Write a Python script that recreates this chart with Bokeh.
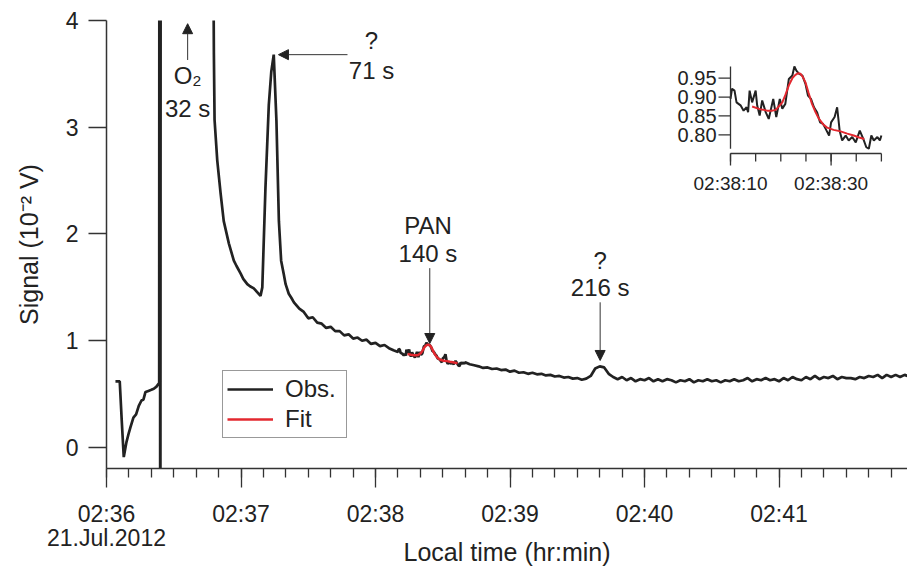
import math
from bokeh.plotting import figure
from bokeh.models import (Range1d, FixedTicker, Arrow, NormalHead,
                          Legend, LegendItem, LinearAxis)
from bokeh.core.properties import value
from bokeh.embed import file_html
from bokeh.resources import INLINE

FONT = "Liberation Sans"
INK = "#222222"
AXC = "#333333"
RED = "#e3282f"

# ---------------- data ----------------
# time: seconds after 02:36:00 local time (21 Jul 2012); signal in 1e-2 V
pre_t = [4.0, 5.9, 6.8, 7.7, 8.9, 10.0, 10.7, 12.0, 13.2, 14.4, 15.6, 16.5,
         17.4, 18.7, 20.0, 21.1, 22.3, 23.3]
pre_v = [0.62, 0.62, 0.25, -0.09, 0.05, 0.14, 0.19, 0.28, 0.31, 0.39, 0.44,
         0.45, 0.52, 0.53, 0.54, 0.55, 0.57, 0.60]

# O2 injection spike (off scale)
spike_t = [23.5, 23.7, 24.0, 24.3, 46.5]
spike_v = [0.60, 12.0, -3.0, 12.0, 9.0]

peak_t = [47.9, 48.2, 49.4, 50.9, 52.3, 54.6, 56.8, 58.0, 59.8, 61.0, 62.8,
          64.0, 65.7, 67.0, 68.7, 69.5, 70.9, 72.4, 73.5, 74.6, 75.8, 76.9,
          77.9, 79.1, 79.9, 81.3, 82.5, 83.6]
peak_v = [3.69, 3.07, 2.69, 2.38, 2.12, 1.91, 1.75, 1.70, 1.63, 1.58, 1.53,
          1.51, 1.49, 1.46, 1.42, 1.50, 2.43, 3.21, 3.52, 3.68, 3.06, 2.12,
          1.75, 1.62, 1.53, 1.44, 1.40, 1.36]

decay_t = [86, 88, 90, 92, 94, 96, 98, 100, 102, 104, 106, 108, 110, 112,
           114, 116, 118, 120, 122, 124, 126, 128]
decay_v = [1.30, 1.27, 1.21, 1.22, 1.17, 1.16, 1.12, 1.13, 1.09, 1.09, 1.05,
           1.06, 1.02, 1.03, 1.00, 1.01, 0.97, 0.98, 0.95, 0.96, 0.93, 0.91]

pan_t = [130.0, 130.3, 130.8, 131.2, 132.0, 132.6, 133.2, 133.5, 133.8, 134.3,
         135.0, 135.3, 135.8, 136.3, 137.0, 137.6, 138.5, 139.1, 139.8, 140.3,
         140.9, 141.6, 142.3, 142.7, 143.1, 143.6, 144.3, 144.9, 145.4, 146.0,
         146.6, 147.2, 147.8, 148.4, 149.1, 149.6, 150.0, 150.7, 151.2, 151.7,
         152.2, 152.9, 153.5, 154.2, 154.9, 155.7, 156.4, 157.0, 157.5, 158.0,
         158.5, 159.2, 159.7, 160.0]
pan_v = [0.895, 0.922, 0.917, 0.886, 0.878, 0.864, 0.873, 0.860, 0.917, 0.886,
         0.917, 0.878, 0.851, 0.891, 0.860, 0.842, 0.895, 0.847, 0.895, 0.869,
         0.882, 0.948, 0.957, 0.981, 0.970, 0.962, 0.957, 0.935, 0.904, 0.895,
         0.873, 0.860, 0.833, 0.829, 0.811, 0.798, 0.833, 0.847, 0.873, 0.811,
         0.785, 0.798, 0.785, 0.794, 0.780, 0.811, 0.789, 0.767, 0.763, 0.798,
         0.785, 0.794, 0.785, 0.798]

tail_t = [162, 164, 166, 168, 170, 172, 174, 176, 178, 180, 182, 184, 186,
          188, 190, 192, 194, 196, 198, 200, 202, 204, 206, 208, 210, 212,
          214, 216, 218, 220, 222, 224, 226, 228, 230, 232, 234, 236, 238,
          240, 242, 244, 246, 248, 250, 252, 254, 256, 258, 260, 262, 264,
          266, 268, 270, 272, 274, 276, 278, 280, 282, 284, 286, 288, 290,
          292, 294, 296, 298, 300, 302, 304, 306, 308, 310, 312, 314, 316,
          318, 320, 322, 324, 326, 328, 330, 332, 334, 336, 338, 340, 342,
          344, 346, 348, 350, 352, 354, 356, 357.3]
tail_v = [0.78, 0.77, 0.76, 0.745, 0.75, 0.735, 0.74, 0.725, 0.73, 0.71,
          0.72, 0.70, 0.705, 0.69, 0.70, 0.685, 0.69, 0.675, 0.68, 0.665,
          0.67, 0.655, 0.66, 0.645, 0.65, 0.635, 0.645, 0.67, 0.74, 0.76,
          0.75, 0.69, 0.66, 0.64, 0.66, 0.63, 0.65, 0.62, 0.64, 0.63,
          0.65, 0.62, 0.64, 0.62, 0.64, 0.63, 0.61, 0.63, 0.62, 0.64,
          0.61, 0.63, 0.62, 0.64, 0.62, 0.63, 0.61, 0.63, 0.62, 0.64,
          0.62, 0.63, 0.65, 0.62, 0.64, 0.63, 0.65, 0.63, 0.64, 0.62,
          0.65, 0.63, 0.66, 0.64, 0.63, 0.66, 0.64, 0.67, 0.64, 0.66,
          0.65, 0.67, 0.64, 0.66, 0.65, 0.65, 0.64, 0.66, 0.65, 0.67,
          0.66, 0.68, 0.65, 0.68, 0.66, 0.68, 0.66, 0.68, 0.67]

# Gaussian fit of the PAN peak
fit_t = [134.3, 135.8, 137.3, 138.2, 139.0, 140.3, 140.9, 141.6, 142.3, 142.9,
         143.4, 143.9, 144.4, 144.9, 145.5, 146.2, 146.9, 147.6, 148.4, 149.2,
         150.5, 151.9, 153.2, 154.5, 155.6, 156.6]
fit_v = [0.875, 0.868, 0.864, 0.864, 0.866, 0.886, 0.905, 0.931, 0.950, 0.959,
         0.963, 0.962, 0.953, 0.939, 0.912, 0.882, 0.860, 0.842, 0.828, 0.819,
         0.813, 0.809, 0.803, 0.798, 0.793, 0.789]

obs_t = pre_t + spike_t + peak_t + decay_t + pan_t + tail_t
obs_v = pre_v + spike_v + peak_v + decay_v + pan_v + tail_v

tick_seconds = [0, 60, 120, 180, 240, 300]
tick_labels = ["02:36", "02:37", "02:38", "02:39", "02:40", "02:41"]
minor_seconds = list(range(0, 360, 10))
date_label = "21.Jul.2012"
y_ticks = [0, 1, 2, 3, 4]

inset_tick_seconds = [130, 150]
inset_tick_labels = ["02:38:10", "02:38:30"]
inset_minor_seconds = [130, 135, 140, 145, 150, 155, 160]
inset_y_ticks = [0.80, 0.85, 0.90, 0.95]

injection_t = 4.2
peak_names = ["O\u2082", "?", "PAN", "?"]
peak_rt = [32, 71, 140, 216]

# ---------------- figure ----------------
p = figure(width=907, height=568, output_backend="svg", toolbar_location=None,
           x_range=Range1d(0, 357.3), y_range=Range1d(-0.197, 4.0),
           min_border_left=106, min_border_right=0, min_border_top=20,
           min_border_bottom=100)
p.outline_line_color = None
p.grid.visible = False

p.xaxis.ticker = FixedTicker(ticks=tick_seconds, minor_ticks=minor_seconds)
p.xaxis.major_label_overrides = dict(zip(tick_seconds, tick_labels))
p.xaxis.major_tick_in = 0
p.xaxis.major_tick_out = 19
p.xaxis.minor_tick_in = 0
p.xaxis.minor_tick_out = 9
p.xaxis.major_label_standoff = 13

# second (label-only) axis carrying the date and the axis title
date_axis = LinearAxis(ticker=FixedTicker(ticks=[tick_seconds[0]], minor_ticks=[]),
                       major_label_overrides={tick_seconds[0]: date_label},
                       axis_line_color=None, major_tick_line_color=None,
                       minor_tick_line_color=None, major_tick_in=0,
                       major_tick_out=0, major_label_standoff=-5,
                       axis_label="Local time (hr:min)",
                       axis_label_standoff=-16)
p.add_layout(date_axis, "below")

p.yaxis.ticker = FixedTicker(ticks=y_ticks, minor_ticks=[])
p.yaxis.major_tick_in = 0
p.yaxis.major_tick_out = 18
p.yaxis.minor_tick_out = 0
p.yaxis.minor_tick_in = 0
p.yaxis.major_label_standoff = 10
p.yaxis.axis_label = "Signal (10\u207b\u00b2 V)"
p.yaxis.axis_label_standoff = 20

for ax in (p.xaxis[0], date_axis, p.yaxis[0]):
    ax.major_label_text_font = FONT
    ax.major_label_text_font_size = "23px"
    ax.major_label_text_color = INK
    ax.axis_label_text_font = FONT
    ax.axis_label_text_font_size = "25px"
    ax.axis_label_text_font_style = "normal"
    ax.axis_label_text_color = INK
for ax in (p.xaxis[0], p.yaxis[0]):
    ax.axis_line_color = AXC
    ax.axis_line_width = 1.5
    ax.major_tick_line_color = AXC
    ax.major_tick_line_width = 1.3
    ax.minor_tick_line_color = AXC
    ax.minor_tick_line_width = 1.3

obs_r = p.line(obs_t, obs_v, line_width=2.7, color=INK)
fit_r = p.line(fit_t, fit_v, line_width=2.5, color=RED)

# ---------------- peak annotations ----------------
pk = [injection_t + rt for rt in peak_rt]
head = dict(size=10, fill_color=INK, line_color=INK)
p.add_layout(Arrow(end=NormalHead(**head), x_start=pk[0], y_start=3.63,
                   x_end=pk[0], y_end=3.97, line_color=AXC, line_width=1))
p.add_layout(Arrow(end=NormalHead(**head), x_start=pk[1] + 32.3, y_start=3.68,
                   x_end=pk[1] + 1.5, y_end=3.68, line_color=AXC, line_width=1))
p.add_layout(Arrow(end=NormalHead(**head), x_start=pk[2], y_start=1.68,
                   x_end=pk[2], y_end=0.974, line_color=AXC, line_width=1))
p.add_layout(Arrow(end=NormalHead(**head), x_start=pk[3], y_start=1.36,
                   x_end=pk[3], y_end=0.815, line_color=AXC, line_width=1))

name_x = [pk[0], pk[1] + 43.0, pk[2] - 0.8, pk[3]]
name_y = [3.485, 3.81, 2.08, 1.752]
rt_y = [3.176, 3.53, 1.817, 1.494]
p.text(x=name_x, y=name_y, text=peak_names, text_align="center",
       text_baseline="middle", text_font=value(FONT), text_font_size="24px",
       text_color=INK)
p.text(x=name_x, y=rt_y, text=[f"{rt} s" for rt in peak_rt],
       text_align="center", text_baseline="middle", text_font=value(FONT),
       text_font_size="24px", text_color=INK)

# ---------------- legend ----------------
legend = Legend(items=[LegendItem(label="Obs.", renderers=[obs_r]),
                       LegendItem(label="Fit", renderers=[fit_r])],
                location=(116, 30), orientation="vertical",
                label_text_font=FONT, label_text_font_size="24px",
                label_text_color=INK, glyph_width=46, glyph_height=24,
                label_height=24, label_width=57, label_standoff=12,
                padding=4, spacing=2, margin=0, border_line_color=AXC,
                border_line_width=1.2, background_fill_alpha=1.0)
p.add_layout(legend)

# ---------------- inset ----------------
p.extra_x_ranges = {"ix": Range1d(5.94, 165.19)}
p.extra_y_ranges = {"iy": Range1d(-0.0844, 1.1029)}
ins = dict(x_range_name="ix", y_range_name="iy")
in_t = [t for t in obs_t if 130 <= t <= 160]
in_v = [v for t, v in zip(obs_t, obs_v) if 130 <= t <= 160]
p.line(in_t, in_v, line_width=2, color=INK, **ins)
p.line(fit_t, fit_v, line_width=2, color=RED, **ins)

ix_lo, ix_hi = inset_minor_seconds[0], inset_minor_seconds[-1]
iy_lo, iy_hi, iy_axis = 0.763, 0.981, 0.7504
p.segment(x0=[ix_lo], y0=[iy_lo], x1=[ix_lo], y1=[iy_hi], line_color=AXC,
          line_width=1.3, **ins)
p.segment(x0=[ix_lo], y0=[iy_axis], x1=[ix_hi], y1=[iy_axis], line_color=AXC,
          line_width=1.3, **ins)
p.ray(x=[ix_lo] * len(inset_y_ticks), y=inset_y_ticks, length=12,
      length_units="screen", angle=math.pi, line_color=AXC, line_width=1.3,
      **ins)
p.text(x=[ix_lo] * len(inset_y_ticks), y=inset_y_ticks,
       text=[f"{v:.2f}" for v in inset_y_ticks], x_offset=-14,
       text_align="right", text_baseline="middle", text_font=value(FONT),
       text_font_size="20px", text_color=INK, **ins)
p.ray(x=inset_minor_seconds, y=[iy_axis] * len(inset_minor_seconds), length=8,
      length_units="screen", angle=-math.pi / 2, line_color=AXC,
      line_width=1.3, **ins)
p.ray(x=inset_tick_seconds, y=[iy_axis] * len(inset_tick_seconds), length=12,
      length_units="screen", angle=-math.pi / 2, line_color=AXC,
      line_width=1.3, **ins)
p.text(x=inset_tick_seconds, y=[iy_axis] * len(inset_tick_seconds),
       text=inset_tick_labels, y_offset=19, text_align="center",
       text_baseline="top", text_font=value(FONT), text_font_size="19px",
       text_color=INK, **ins)

open("out.html", "w").write(file_html(p, INLINE))
